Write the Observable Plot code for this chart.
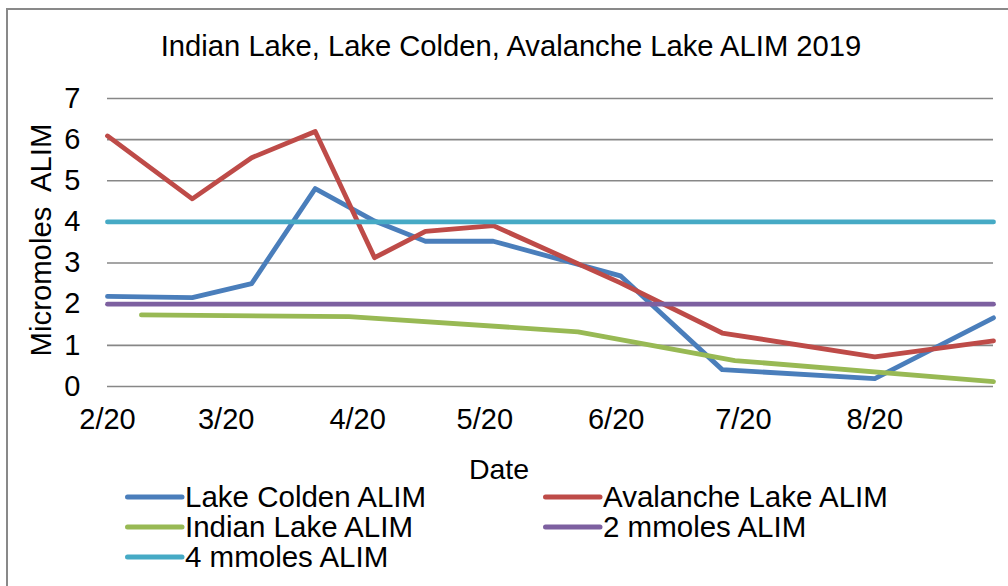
<!DOCTYPE html>
<html>
<head>
<meta charset="utf-8">
<script src="https://cdn.jsdelivr.net/npm/d3@7"></script>
<script src="https://cdn.jsdelivr.net/npm/@observablehq/plot@0.6"></script>
<style>
  html, body { margin: 0; padding: 0; background: #fff; }
  body { width: 1008px; height: 586px; overflow: hidden; position: relative;
         font-family: "Liberation Sans", Arial, sans-serif; color: #000; }
  #frame { position: absolute; left: 6px; top: 8px; width: 2000px; height: 2000px;
           border: 2px solid #898989; box-sizing: border-box; }
  #title { position: absolute; left: 0; top: 32px; width: 1022px; text-align: center;
           font-size: 29.2px; line-height: 29px; white-space: nowrap; }
  #chart { position: absolute; left: 0; top: 70px; }
  #ylabel { position: absolute; left: -109px; top: 225px; width: 300px; height: 30px;
            line-height: 30px; font-size: 29.3px; text-align: center; white-space: pre;
            transform: rotate(-90deg); transform-origin: 150px 15px; }
  #xlabel { position: absolute; left: 399px; width: 200px; top: 455px; text-align: center;
            font-size: 28.5px; line-height: 28px; }
  .leg { position: absolute; height: 30px; line-height: 30px; font-size: 29.5px; white-space: nowrap; }
  .leg svg { position: absolute; left: 0; top: 0; }
  .leg span { position: absolute; top: 0; }
</style>
</head>
<body>
<div id="frame"></div>
<div id="title"></div>
<div id="chart"></div>
<div id="ylabel"></div>
<div id="xlabel"></div>
<div id="legend"></div>
<script>
// ---- Data ----
const titleText = "Indian Lake, Lake Colden, Avalanche Lake ALIM 2019";
const yLabelText = "Micromoles  ALIM";
const xLabelText = "Date";

const coldenDates = ["2019-02-20","2019-03-12","2019-03-26","2019-04-10","2019-04-24","2019-05-06","2019-05-22","2019-06-21","2019-07-15","2019-08-20","2019-09-17"];
const coldenValues = [2.19, 2.16, 2.50, 4.81, 4.02, 3.53, 3.53, 2.69, 0.41, 0.19, 1.67];

const avalancheDates = ["2019-02-20","2019-03-12","2019-03-26","2019-04-10","2019-04-24","2019-05-06","2019-05-22","2019-06-21","2019-07-15","2019-08-20","2019-09-17"];
const avalancheValues = [6.09, 4.56, 5.56, 6.20, 3.13, 3.77, 3.91, 2.52, 1.30, 0.72, 1.11];

const indianDates = ["2019-02-28","2019-04-18","2019-06-11","2019-07-18","2019-09-17"];
const indianValues = [1.74, 1.70, 1.33, 0.63, 0.12];

const thresholdDates = ["2019-02-20","2019-09-17"];
const twoMmolValues = [2, 2];
const fourMmolValues = [4, 4];

const xDomain = ["2019-02-20","2019-09-17"];
const xTickDates = ["2019-02-20","2019-03-20","2019-04-20","2019-05-20","2019-06-20","2019-07-20","2019-08-20"];
const xTickLabels = ["2/20","3/20","4/20","5/20","6/20","7/20","8/20"];
const yTicks = [0, 1, 2, 3, 4, 5, 6, 7];

const seriesNames = ["Lake Colden ALIM","Avalanche Lake ALIM","Indian Lake ALIM","2 mmoles ALIM","4 mmoles ALIM"];
const seriesColors = ["#4A7EBB","#BE4B48","#98B954","#7D60A0","#46AAC5"];

// ---- Build tables ----
const toRows = (dates, values, name) => dates.map((d, i) => ({date: new Date(d + "T00:00:00Z"), value: values[i], series: name}));
const rows = [
  toRows(coldenDates, coldenValues, seriesNames[0]),
  toRows(avalancheDates, avalancheValues, seriesNames[1]),
  toRows(indianDates, indianValues, seriesNames[2]),
  toRows(thresholdDates, twoMmolValues, seriesNames[3]),
  toRows(thresholdDates, fourMmolValues, seriesNames[4])
];
const tickDateObjs = xTickDates.map(d => new Date(d + "T00:00:00Z"));
const tickLabelMap = new Map(tickDateObjs.map((d, i) => [+d, xTickLabels[i]]));

const lineOpts = (i) => ({
  x: "date", y: "value", stroke: seriesColors[i], strokeWidth: 4.8,
  strokeLinejoin: "round", strokeLinecap: "round"
});

const chart = Plot.plot({
  width: 1008,
  height: 420,
  marginLeft: 107,
  marginRight: 15,
  marginTop: 28,
  marginBottom: 104,
  style: {fontFamily: "'Liberation Sans', Arial, sans-serif", fontSize: "29px", color: "#000", background: "transparent", overflow: "visible"},
  x: {type: "utc", domain: xDomain.map(d => new Date(d + "T00:00:00Z"))},
  y: {domain: [0, 7]},
  marks: [
    Plot.gridY(yTicks, {stroke: "#878787", strokeOpacity: 1, strokeWidth: 1.6}),
    Plot.axisY(yTicks, {tickSize: 0, tickPadding: 27, label: null, tickFormat: d => String(d)}),
    Plot.axisX(tickDateObjs, {tickSize: 0, tickPadding: 22, label: null, tickFormat: d => tickLabelMap.get(+d)}),
    ...rows.map((r, i) => Plot.line(r, lineOpts(i)))
  ]
});
document.getElementById("chart").appendChild(chart);

// ---- Text outside the SVG ----
document.getElementById("title").textContent = titleText;
document.getElementById("ylabel").textContent = yLabelText;
document.getElementById("xlabel").textContent = xLabelText;

// ---- Legend (two columns, row-major like the reference) ----
const legend = document.getElementById("legend");
const colX = [125, 543];
const rowTop = [482, 512, 542];
seriesNames.forEach((name, i) => {
  const item = document.createElement("div");
  item.className = "leg";
  item.style.left = colX[i % 2] + "px";
  item.style.top = rowTop[Math.floor(i / 2)] + "px";
  item.style.width = "420px";
  item.innerHTML =
    `<svg width="62" height="30"><line x1="2.5" x2="57" y1="15" y2="15" stroke="${seriesColors[i]}" stroke-width="5" stroke-linecap="round"/></svg>` +
    `<span style="left:60px"></span>`;
  item.querySelector("span").textContent = name;
  legend.appendChild(item);
});
</script>
</body>
</html>
